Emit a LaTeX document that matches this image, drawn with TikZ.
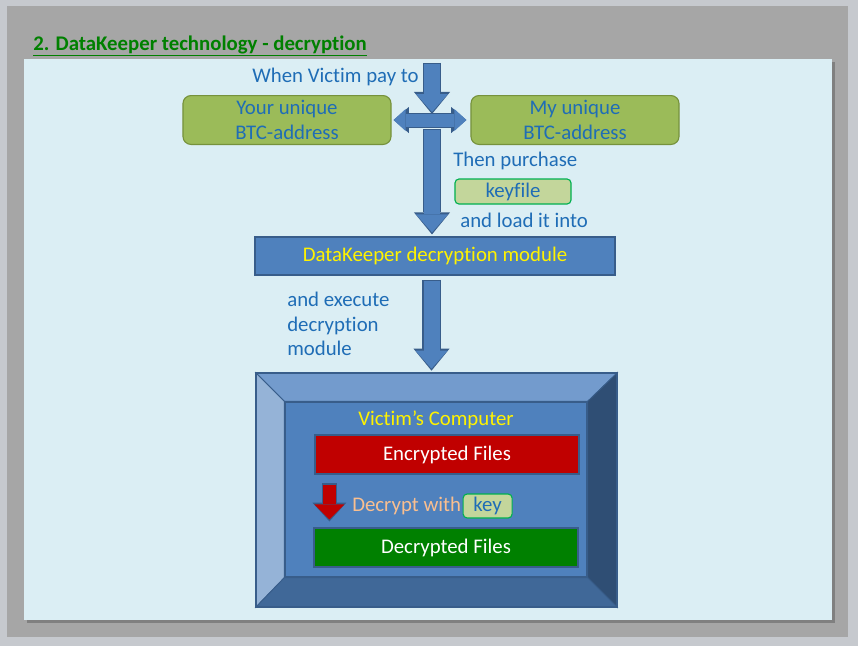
\documentclass[tikz,border=0pt]{standalone}
\usepackage{fontspec}
\setmainfont[Ligatures={NoCommon}]{Carlito}
\usetikzlibrary{arrows.meta, calc, positioning}

\definecolor{outerGray}{RGB}{198,201,206}
\definecolor{slideGray}{RGB}{166,166,166}
\definecolor{panelBlue}{RGB}{219,238,244}
\definecolor{titleGreen}{RGB}{0,128,0}
\definecolor{textBlue}{RGB}{31,109,182}
\definecolor{oliveFill}{RGB}{155,187,89}
\definecolor{oliveEdge}{RGB}{118,146,60}
\definecolor{keyFill}{RGB}{195,214,155}
\definecolor{keyEdge}{RGB}{0,176,80}
\definecolor{modBlue}{RGB}{79,129,189}
\definecolor{modEdge}{RGB}{56,93,138}
\definecolor{faceTop}{RGB}{115,155,205}
\definecolor{faceLeft}{RGB}{149,179,215}
\definecolor{faceRight}{RGB}{47,78,116}
\definecolor{faceBottom}{RGB}{64,104,152}
\definecolor{encRed}{RGB}{192,0,0}
\definecolor{decGreen}{RGB}{0,128,0}
\definecolor{salmon}{RGB}{250,191,143}

\begin{document}
\begin{tikzpicture}[
    x=0.025cm, y=-0.025cm,
    addrBox/.style={draw=oliveEdge, fill=oliveFill, line width=0.8pt, rounded corners=0.2cm, minimum width=5.2cm, minimum height=1.2cm, align=center, text=textBlue, font=\fontsize{14.8}{17.8}\selectfont},
    keyBox/.style={draw=keyEdge, fill=keyFill, line width=0.8pt, rounded corners=0.1cm, inner sep=0pt, text=textBlue, font=\fontsize{14.8}{17}\selectfont},
    modBox/.style={draw=modEdge, fill=modBlue, line width=0.8pt, inner sep=0pt, font=\fontsize{14.8}{17}\selectfont},
    labelStyle/.style={inner sep=0pt, text=textBlue, font=\fontsize{14.8}{17.6}\selectfont, align=left},
    bigArrow/.style={draw=modBlue, line width=0.4cm, -{Triangle[width=0.8cm, length=0.45cm, line width'=0pt]},
        preaction={draw=modEdge, line width=0.45cm, shorten <=-0.03cm, shorten >=-0.05cm, -{Triangle[width=0.9cm, length=0.55cm, line width'=0pt]}}},
    hubArrow/.style={draw=modBlue, line width=0.325cm, {Triangle[width=0.55cm, length=0.3cm, line width'=0pt]}-{Triangle[width=0.55cm, length=0.3cm, line width'=0pt]},
        preaction={draw=modEdge, line width=0.375cm, {Triangle[width=0.65cm, length=0.38cm, line width'=0pt]}-{Triangle[width=0.65cm, length=0.38cm, line width'=0pt]}}},
    redArrow/.style={draw=encRed, line width=0.325cm, -{Triangle[width=0.75cm, length=0.375cm, line width'=0pt]},
        preaction={draw=modEdge, line width=0.375cm, shorten <=-0.03cm, shorten >=-0.05cm, -{Triangle[width=0.85cm, length=0.47cm, line width'=0pt]}}}
]

% ----------------------------------------------------
% Slide background
% ----------------------------------------------------
\fill[outerGray] (0,0) rectangle (858,646);
\fill[slideGray] (7,6) rectangle (848,637);
\fill[black!50] (27,62) rectangle (835,623);
\fill[panelBlue] (24,59) rectangle (832,620);

\node[anchor=base west, inner sep=0pt, text=titleGreen, font=\fontsize{14.8}{17}\selectfont\bfseries] (title) at (33,50) {\underline{2. DataKeeper technology - decryption}};

% ----------------------------------------------------
% Payment
% ----------------------------------------------------
\node[labelStyle, anchor=east] (pay) at (419,77) {When Victim pay to};

\node[addrBox] (your) at (287,120) {Your unique\\BTC-address};
\node[addrBox] (my) at (575,120) {My unique\\BTC-address};

\coordinate (payTop) at (432,64);
\coordinate (hubTop) at (432,112);
\coordinate (hubLow) at (432,130);

\draw[bigArrow] (payTop) -- (hubTop);
\draw[hubArrow] ([xshift=0.05cm]your.east) -- ([xshift=-0.1cm]my.west);

% ----------------------------------------------------
% Keyfile
% ----------------------------------------------------
\node[labelStyle, anchor=west] (purchase) at (453,161) {Then purchase};
\node[keyBox, minimum width=2.9cm, minimum height=0.625cm] (keyfile) at (513,191.5) {keyfile};
\node[labelStyle, anchor=west] (load) at (460,220) {and load it into};

\node[modBox, minimum width=9cm, minimum height=0.95cm, text=yellow] (dkm) at (435,256) {DataKeeper decryption module};

\draw[bigArrow] (hubLow) -- ([yshift=0.1cm]hubLow |- dkm.north);

% ----------------------------------------------------
% Victim's computer
% ----------------------------------------------------
\node[labelStyle, anchor=west] (exec) at (287,324) {and execute\\decryption\\module};

\node[minimum width=9.025cm, minimum height=5.85cm, inner sep=0pt] (comp) at (436.5,490) {};
\node[modBox, minimum width=7.55cm, minimum height=4.375cm] (compIn) at (436,489.5) {};

\filldraw[fill=faceTop, draw=modEdge, line width=0.6pt] (comp.north west) -- (comp.north east) -- (compIn.north east) -- (compIn.north west) -- cycle;
\filldraw[fill=faceLeft, draw=modEdge, line width=0.6pt] (comp.north west) -- (compIn.north west) -- (compIn.south west) -- (comp.south west) -- cycle;
\filldraw[fill=faceRight, draw=modEdge, line width=0.6pt] (comp.north east) -- (comp.south east) -- (compIn.south east) -- (compIn.north east) -- cycle;
\filldraw[fill=faceBottom, draw=modEdge, line width=0.6pt] (comp.south west) -- (compIn.south west) -- (compIn.south east) -- (comp.south east) -- cycle;
\draw[modEdge, line width=1.2pt] (comp.north west) rectangle (comp.south east);

\coordinate (execTop) at (431.5,281);
\draw[bigArrow] (execTop) -- ([yshift=0.1cm]execTop |- comp.north);

\node[inner sep=0pt, text=yellow, font=\fontsize{14.8}{17}\selectfont] (victim) at (436,420) {Victim’s Computer};

\node[modBox, fill=encRed, text=white, minimum width=6.6cm, minimum height=0.975cm] (enc) at (447,454.5) {Encrypted Files};
\node[modBox, fill=decGreen, text=white, minimum width=6.6cm, minimum height=0.975cm] (dec) at (446,547.5) {Decrypted Files};

\node[inner sep=0pt, anchor=west, text=salmon, font=\fontsize{14.8}{17}\selectfont] (decrypt) at (352,506) {Decrypt with};
\node[keyBox, minimum width=1.225cm, minimum height=0.6cm, right=0.03cm of decrypt] (key) {key};

\draw[redArrow] ([shift={(15,10)}]enc.south west) -- ([shift={(16,-8)}]dec.north west);

\end{tikzpicture}
\end{document}
